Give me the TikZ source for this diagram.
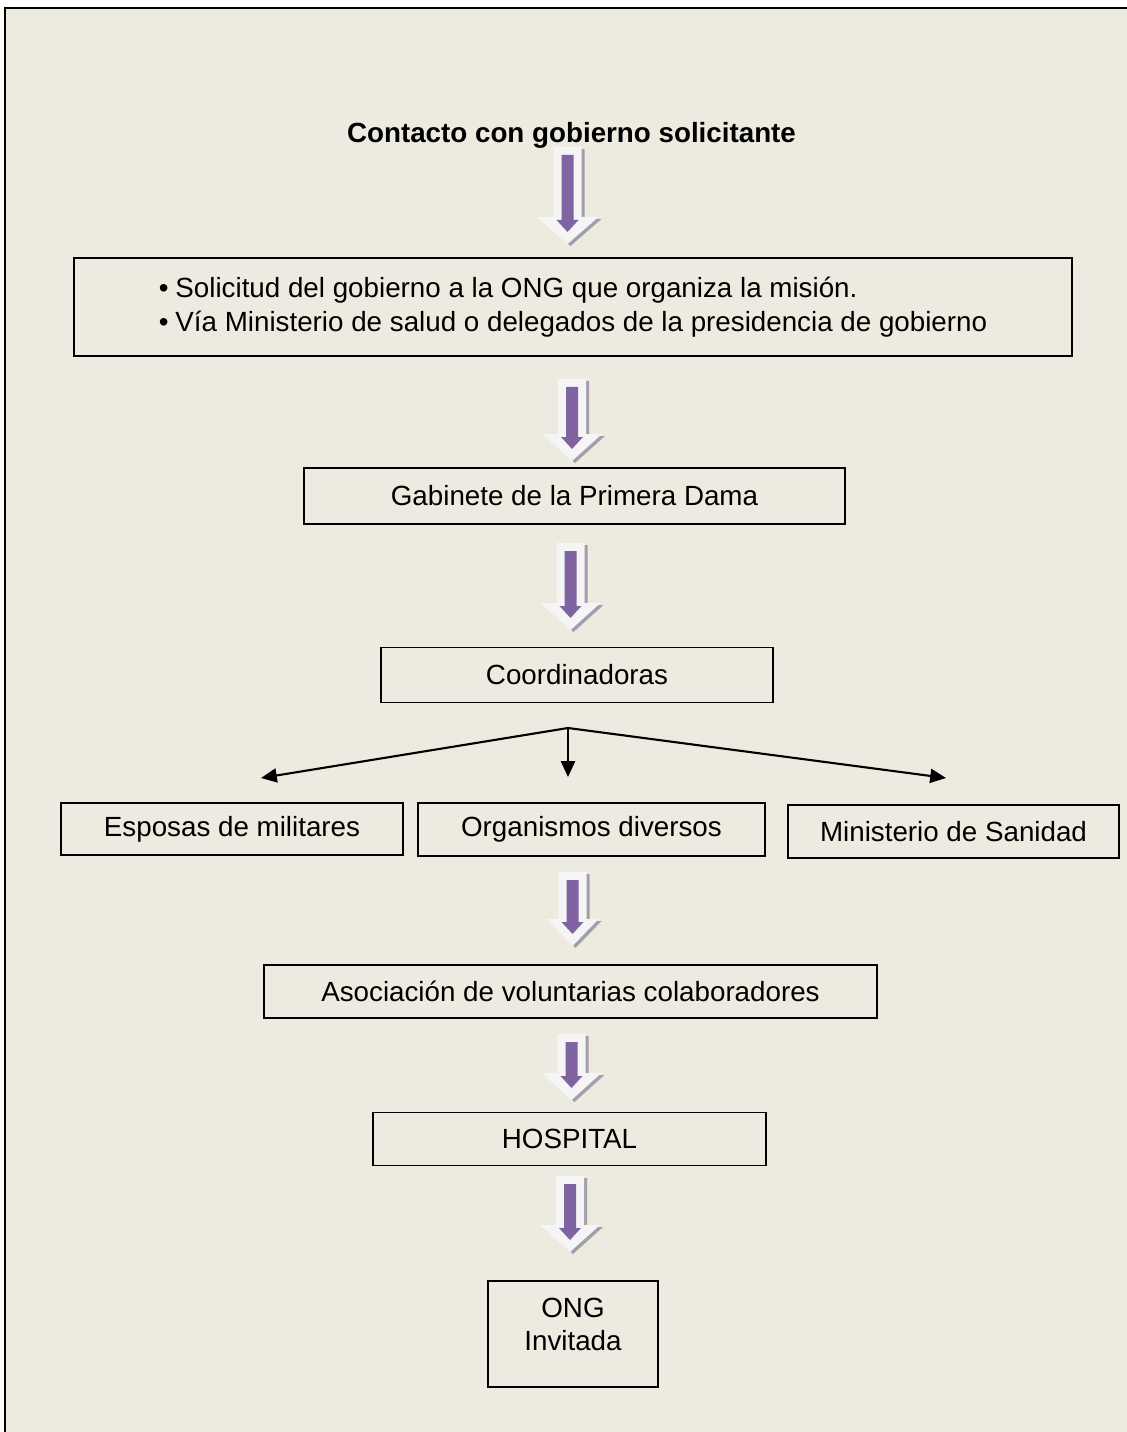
\documentclass[tikz,border=0pt]{standalone}
\usepackage{fontspec}
\setmainfont{Liberation Sans}
\usetikzlibrary{arrows.meta}
\definecolor{fondo}{RGB}{237,235,224}
\definecolor{morado}{RGB}{128,100,162}
\definecolor{sombra}{RGB}{162,158,170}
\definecolor{blanco}{RGB}{245,245,245}
\def\px{0.02cm}
% flecha gruesa: centro x, arriba, punta, media anchura de la cabeza
\newcommand{\flecha}[4]{%
  \fill[sombra] (#1-14+3,#2+2) -- (#1+14+3,#2+2) -- (#1+14+3,#3-27+2) -- (#1+#4+3,#3-27+2) -- (#1+3,#3+2) -- (#1-#4+3,#3-27+2) -- (#1-14+3,#3-27+2) -- cycle;
  \fill[blanco] (#1-14,#2) -- (#1+14,#2) -- (#1+14,#3-27) -- (#1+#4,#3-27) -- (#1,#3) -- (#1-#4,#3-27) -- (#1-14,#3-27) -- cycle;
  \fill[morado] (#1-6,#2+8) -- (#1+6,#2+8) -- (#1+6,#3-24) -- (#1+11,#3-24) -- (#1,#3-12) -- (#1-11,#3-24) -- (#1-6,#3-24) -- cycle;
}
\begin{document}
\begin{tikzpicture}[x=0.02cm,y=-0.02cm,
    caja/.style={draw,line width=1.1pt,inner sep=0pt,font=\fontsize{15.8}{19}\selectfont},
    rama/.style={line width=1.2pt,-{Triangle[length=9pt,width=8pt]}}]
  \useasboundingbox (0,0) rectangle (1126,1432);
  \fill[white] (0,0) rectangle (1126,1432);
  \fill[fondo] (5,8) rectangle (1140,1450);
  \draw[line width=1.1pt] (5,1450) -- (5,8) -- (1140,8);
  % titulo y cajas
  \node[font=\fontsize{15.8}{19}\selectfont\bfseries] (titulo) at (571.5,135) {Contacto con gobierno solicitante};
  \node[caja,minimum width=998*\px,minimum height=98*\px,align=left] (sol) at (573,307)
    {\textbullet\hspace{0.25em}Solicitud del gobierno a la ONG que organiza la misión.\\
     \textbullet\hspace{0.25em}Vía Ministerio de salud o delegados de la presidencia de gobierno};
  \node[caja,minimum width=541*\px,minimum height=56*\px] (gab) at (574.5,496) {Gabinete de la Primera Dama};
  \node[caja,minimum width=392*\px,minimum height=55*\px] (coord) at (577,675) {Coordinadoras};
  \node[caja,minimum width=342*\px,minimum height=52*\px] (esp) at (232,829) {Esposas de militares};
  \node[caja,minimum width=347*\px,minimum height=53*\px] (org) at (591.5,829.5) {Organismos diversos};
  \node[caja,minimum width=331*\px,minimum height=53*\px] (mins) at (953.5,831.5) {Ministerio de Sanidad};
  \node[caja,minimum width=613*\px,minimum height=53*\px] (asoc) at (570.5,991.5) {Asociación de voluntarias colaboradores};
  \node[caja,minimum width=393*\px,minimum height=53*\px] (hosp) at (569.5,1139) {HOSPITAL};
  \node[caja,minimum width=170*\px,minimum height=106*\px,text depth=32pt] (ong) at (573,1334)
    {\begin{tabular}[t]{@{}c@{}}ONG\\Invitada\end{tabular}};
  % flechas gruesas
  \flecha{567.5}{147}{244}{31}
  \flecha{572}{379}{461}{30}
  \flecha{570.5}{543}{630}{30}
  \flecha{572.5}{872}{946}{26}
  \flecha{571.5}{1034}{1100}{30}
  \flecha{570}{1176}{1252}{30}
  % reparto
  \coordinate (split) at (568,728);
  \coordinate (ramaI) at (261,778);
  \coordinate (ramaC) at (568,777);
  \coordinate (ramaD) at (946,778);
  \draw[rama] (split) -- (ramaI);
  \draw[rama] (split) -- (ramaC);
  \draw[rama] (split) -- (ramaD);
\end{tikzpicture}
\end{document}
